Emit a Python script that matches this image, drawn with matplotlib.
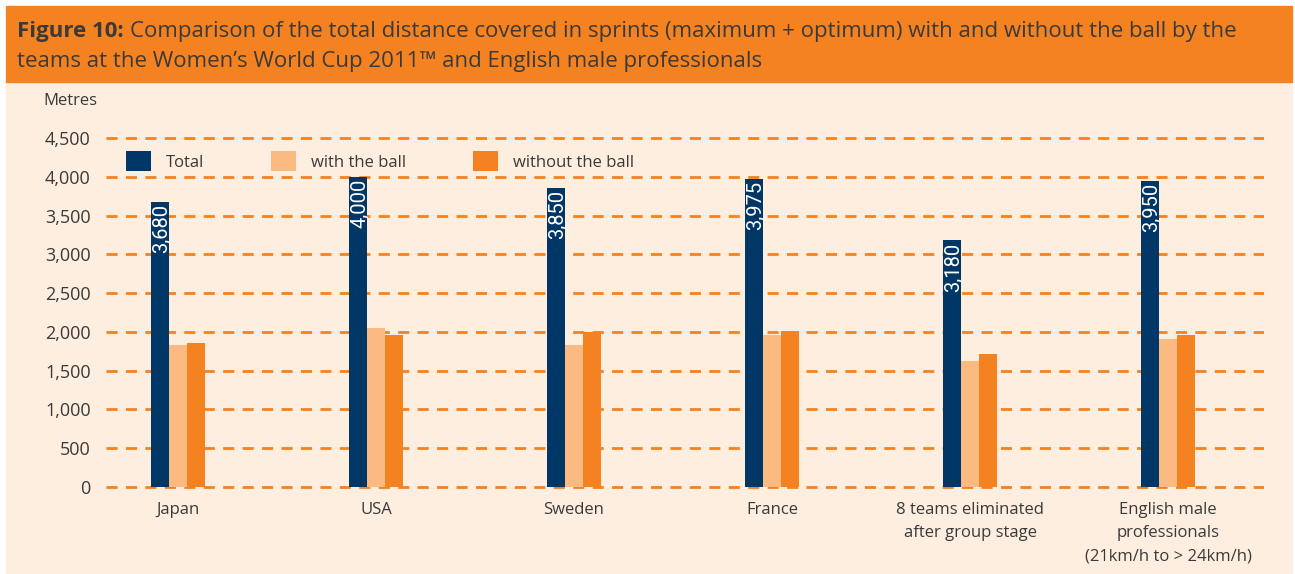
import numpy as np
import matplotlib.pyplot as plt
from matplotlib.patches import Rectangle

categories = ['Japan', 'USA', 'Sweden', 'France',
              '8 teams eliminated\nafter group stage',
              'English male\nprofessionals\n(21km/h to > 24km/h)']
total = [3680, 4000, 3850, 3975, 3180, 3950]
with_ball = [1830, 2050, 1830, 1960, 1625, 1910]
without_ball = [1860, 1960, 2000, 2010, 1715, 1960]
yticks = [0, 500, 1000, 1500, 2000, 2500, 3000, 3500, 4000, 4500]

NAVY = '#003767'
LIGHT = '#FBBA82'
ORANGE = '#F58220'
CREAM = '#FDEEE0'
TEXT = '#3a3a3a'

plt.rcParams['font.family'] = ['Open Sans', 'DejaVu Sans']

W, H = 1295, 574
fig = plt.figure(figsize=(W / 100, H / 100), dpi=100)
fig.patch.set_facecolor('white')

# background panels (behind the axes)
fig.patches.append(Rectangle((6 / W, 0), (1292 - 6) / W, (574 - 82) / H,
                             transform=fig.transFigure, color=CREAM, zorder=-5))
fig.patches.append(Rectangle((6 / W, (574 - 82) / H), (1292 - 6) / W, 76 / H,
                             transform=fig.transFigure, color=ORANGE, zorder=-5))

# title
tsize = 16.0
t1 = fig.text(17 / W, 1 - 31 / H, 'Figure 10:', fontsize=tsize, fontweight='bold',
              color=TEXT, va='center')
fig.canvas.draw()
bb = t1.get_window_extent()
fig.text((bb.x1 + 6) / W, 1 - 31 / H,
         'Comparison of the total distance covered in sprints (maximum + optimum) with and without the ball by the',
         fontsize=tsize, color=TEXT, va='center')
fig.text(17 / W, 1 - 61 / H,
         'teams at the Women\u2019s World Cup 2011\u2122 and English male professionals',
         fontsize=tsize, color=TEXT, va='center')

# axes placement in pixels
ppu = 349 / 4500
ymin, ymax = -50, 4550
ax_bottom = 487 + 50 * ppu
ax_top = 138 - 50 * ppu
ax_left, ax_right = 106, 1264
ax = fig.add_axes([ax_left / W, 1 - ax_bottom / H,
                   (ax_right - ax_left) / W, (ax_bottom - ax_top) / H])
ax.set_facecolor('none')

spacing = 198
x0 = 178
ax.set_xlim((ax_left - x0) / spacing, (ax_right - x0) / spacing)
ax.set_ylim(ymin, ymax)

x = np.arange(len(categories))
bw = 18 / spacing
for yv in yticks:
    ax.axhline(yv, color=ORANGE, lw=2, ls=(0, (4, 3)), zorder=1)

ax.bar(x - bw, total, bw, color=NAVY, zorder=2, label='Total')
ax.bar(x, with_ball, bw, color=LIGHT, zorder=2, label='with the ball')
ax.bar(x + bw, without_ball, bw, color=ORANGE, zorder=2, label='without the ball')

for xi, v in zip(x, total):
    ax.text(xi - bw, v - 25, f'{v:,}', rotation=90, rotation_mode='anchor',
            ha='right', va='center_baseline', color='white', fontsize=14.5,
            family=['Liberation Sans Narrow', 'Roboto', 'DejaVu Sans'], zorder=3)

for s in ax.spines.values():
    s.set_visible(False)
ax.set_yticks(yticks)
ax.set_yticklabels([f'{v:,}' for v in yticks], fontsize=13, color=TEXT)
ax.set_xticks(x)
ax.set_xticklabels(categories, fontsize=12, color=TEXT, linespacing=1.6)
ax.tick_params(length=0)
ax.tick_params(axis='y', pad=11)
ax.tick_params(axis='x', pad=8)

fig.text(43 / W, 1 - 101 / H, 'Metres', fontsize=12, color=TEXT, va='center')

leg = ax.legend(loc='upper left', bbox_to_anchor=(5 / (ax_right - ax_left), 0.995),
                ncol=3, frameon=False, fontsize=12, handlelength=1.5, handleheight=1.5,
                columnspacing=4.0, handletextpad=0.9, labelcolor=TEXT)

fig.savefig('out.png', dpi=100, facecolor=fig.get_facecolor())
